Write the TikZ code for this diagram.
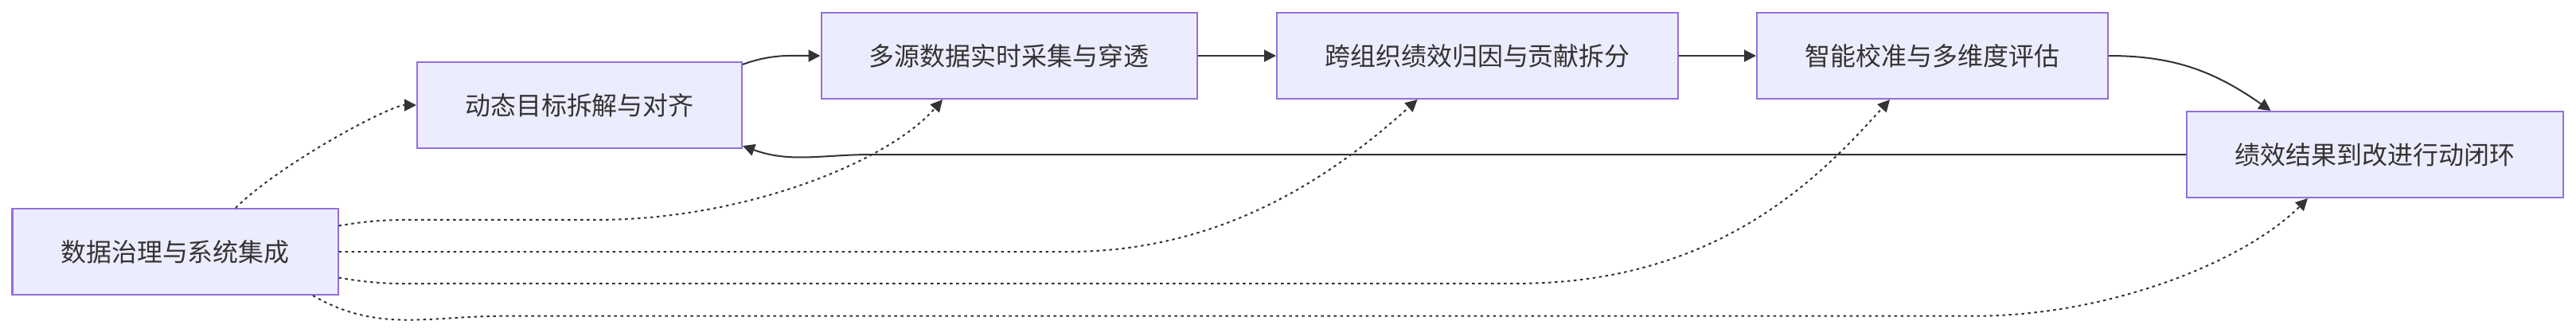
\documentclass[tikz,border=0pt]{standalone}
\usepackage{fontspec}
\setmainfont{Noto Sans CJK SC}
\usetikzlibrary{arrows.meta}

\definecolor{boxfill}{HTML}{ECECFF}
\definecolor{boxline}{HTML}{9370DB}
\definecolor{ink}{HTML}{333333}

\tikzset{
  stage/.style={draw=boxline, fill=boxfill, line width=0.02cm, minimum height=1.08cm,
    inner sep=0pt, text=ink, font=\fontsize{9.1pt}{11pt}\selectfont},
  flow/.style={draw=ink, line width=0.02cm, -{Triangle[length=0.15cm, width=0.15cm]}},
  feed/.style={flow, dash pattern=on 0.035cm off 0.045cm},
}

\begin{document}
\begin{tikzpicture}
\useasboundingbox (0,0) rectangle (32.36,4.12);

% Stages
\node[stage, minimum width=4.09cm] (data) at (2.20, 0.96) {数据治理与系统集成};
\node[stage, minimum width=4.08cm] (goal) at (7.28, 2.80) {动态目标拆解与对齐};
\node[stage, minimum width=4.72cm] (collect) at (12.675, 3.42) {多源数据实时采集与穿透};
\node[stage, minimum width=5.04cm] (attrib) at (18.56, 3.42) {跨组织绩效归因与贡献拆分};
\node[stage, minimum width=4.41cm] (calib) at (24.275, 3.42) {智能校准与多维度评估};
\node[stage, minimum width=4.73cm] (loop) at (29.835, 2.18) {绩效结果到改进行动闭环};

% Main flow
\draw[flow] (goal.14) to[out=20,in=180] (collect.west);
\draw[flow] (collect) -- (attrib);
\draw[flow] (attrib) -- (calib);
\draw[flow] (calib.east) to[out=0,in=145] ([xshift=-1.31cm]loop.north);
\draw[flow] (loop.west) -- ++(-16.5,0) to[out=180,in=-20] (goal.-14);

% Support from data
\draw[feed] ([xshift=0.76cm]data.north) .. controls +(0.54,0.54) and +(-0.34,0) .. (goal.west);
\draw[feed] (data.9) to[out=10,in=180] ++(1.2,0.076) -- ++(2.06,0)
  .. controls +(1.8,0) and +(-0.7,-0.8) .. ([xshift=-0.835cm]collect.south);
\draw[feed] (data.east) -- ++(9.16,0)
  .. controls +(2,0) and +(-1.0,-0.9) .. ([xshift=-0.754cm]attrib.south);
\draw[feed] (data.-9) to[out=-10,in=180] ++(1.5,-0.073) -- ++(13.3,0)
  .. controls +(2.56,0) and +(-0.84,-0.93) .. ([xshift=-0.535cm]calib.south);
\draw[feed] ([xshift=1.73cm]data.south) to[out=-30,in=180] ++(2.4,-0.257) -- ++(18.47,0)
  .. controls +(1.7,0) and +(-0.79,-0.79) .. ([xshift=-0.845cm]loop.south);

\end{tikzpicture}
\end{document}
